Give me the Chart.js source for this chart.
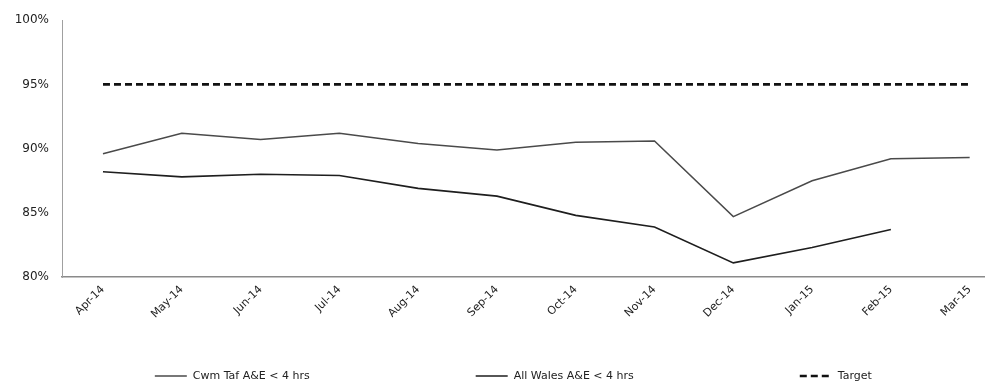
<!DOCTYPE html>
<html>
<head>
<meta charset="utf-8">
<script src="https://cdn.jsdelivr.net/npm/chart.js@4.4.1/dist/chart.umd.min.js"></script>
<style>
  html, body { margin: 0; padding: 0; background: #ffffff; }
  #wrap { width: 985px; height: 388px; position: relative; }
</style>
</head>
<body>
<div id="wrap"><canvas id="c"></canvas></div>
<script>
// Monthly A&E 4-hour performance, April 2014 – March 2015
const months = ['Apr-14', 'May-14', 'Jun-14', 'Jul-14', 'Aug-14', 'Sep-14',
                'Oct-14', 'Nov-14', 'Dec-14', 'Jan-15', 'Feb-15', 'Mar-15'];
const cwmTaf   = [89.6, 91.2, 90.7, 91.2, 90.4, 89.9, 90.5, 90.6, 84.7, 87.5, 89.2, 89.3];
const allWales = [88.2, 87.8, 88.0, 87.9, 86.9, 86.3, 84.8, 83.9, 81.1, 82.3, 83.7, null];
const target   = [95, 95, 95, 95, 95, 95, 95, 95, 95, 95, 95, 95];
const yTicks   = [80, 85, 90, 95, 100];

const FONT = '"DejaVu Sans", "Liberation Sans", sans-serif';

function toPoints(values) {
  return values.map((v, i) => ({ x: i, y: v })).filter(p => p.y !== null);
}

// Wide-spaced legend row drawn under the axis labels
const spacedLegend = {
  id: 'spacedLegend',
  afterDraw(chart) {
    const ctx = chart.ctx;
    const sample = 32, gapText = 6, gapItem = 166;
    ctx.save();
    ctx.font = '11px ' + FONT;
    const items = chart.data.datasets.map(ds => ({
      ds, w: sample + gapText + ctx.measureText(ds.label).width
    }));
    const total = items.reduce((s, it) => s + it.w, 0) + gapItem * (items.length - 1);
    const area = chart.chartArea;
    let x = (area.left + area.right) / 2 - 10 - total / 2;
    const y = chart.height - 12;
    items.forEach(({ ds, w }) => {
      ctx.beginPath();
      ctx.setLineDash(ds.borderDash || []);
      ctx.lineWidth = ds.borderWidth;
      ctx.strokeStyle = ds.borderColor;
      ctx.moveTo(x, y);
      ctx.lineTo(x + sample, y);
      ctx.stroke();
      ctx.setLineDash([]);
      ctx.fillStyle = '#222';
      ctx.textBaseline = 'middle';
      ctx.textAlign = 'left';
      ctx.fillText(ds.label, x + sample + gapText, y);
      x += w + gapItem;
    });
    ctx.restore();
  }
};

new Chart(document.getElementById('c'), {
  type: 'line',
  data: {
    datasets: [
      {
        label: 'Cwm Taf A&E < 4 hrs',
        data: toPoints(cwmTaf),
        borderColor: '#4a4a4a',
        backgroundColor: 'transparent',
        borderWidth: 1.5,
        pointRadius: 0,
        tension: 0
      },
      {
        label: 'All Wales A&E < 4 hrs',
        data: toPoints(allWales),
        borderColor: '#1e1e1e',
        backgroundColor: 'transparent',
        borderWidth: 1.6,
        pointRadius: 0,
        tension: 0
      },
      {
        label: 'Target',
        data: toPoints(target),
        borderColor: '#111111',
        backgroundColor: 'transparent',
        borderWidth: 2.6,
        borderDash: [7, 4],
        pointRadius: 0,
        tension: 0
      }
    ]
  },
  plugins: [spacedLegend],
  options: {
    responsive: true,
    maintainAspectRatio: false,
    animation: false,
    layout: { padding: { top: 11, right: 0, left: 0, bottom: 61 } },
    plugins: {
      tooltip: { enabled: false },
      legend: { display: false }
    },
    scales: {
      x: {
        type: 'linear',
        min: -0.52,
        max: 11.19,
        grid: { display: false, drawTicks: false },
        border: { display: true, color: '#8a8a8a', width: 1.5 },
        afterBuildTicks: (scale) => {
          scale.ticks = months.map((m, i) => ({ value: i }));
        },
        afterFit: (scale) => { scale.height = 50; },
        ticks: {
          minRotation: 45,
          maxRotation: 45,
          autoSkip: false,
          padding: 6,
          color: '#222',
          font: { family: FONT, size: 11 },
          callback: (v) => months[v]
        }
      },
      y: {
        min: 80,
        max: 100,
        afterBuildTicks: (scale) => {
          scale.ticks = yTicks.map(v => ({ value: v }));
        },
        afterFit: (scale) => { scale.width = 62; },
        grid: { display: false, drawTicks: false },
        border: { display: true, color: '#a0a0a0', width: 1, dash: [2, 4] },
        ticks: {
          padding: 13,
          color: '#222',
          font: { family: FONT, size: 12 },
          callback: (v) => v + '%'
        }
      }
    }
  }
});
</script>
</body>
</html>
